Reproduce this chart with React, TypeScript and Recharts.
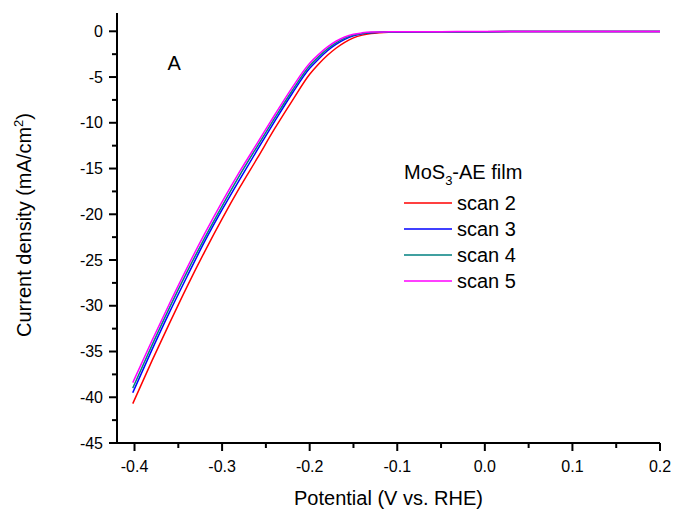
import { LineChart, Line, XAxis, YAxis, Legend, ReferenceDot } from 'recharts';

const potential = [-0.402, -0.38, -0.36, -0.34, -0.32, -0.30, -0.28, -0.26, -0.24, -0.22, -0.20, -0.19, -0.18, -0.17, -0.16, -0.15, -0.14, -0.13, -0.12, -0.11, -0.10, -0.05, 0.00, 0.05, 0.10, 0.15, 0.20];

const scan2 = [-40.7, -36.0, -31.9, -27.9, -24.1, -20.5, -17.1, -13.9, -10.65, -7.6, -4.7, -3.6, -2.65, -1.85, -1.2, -0.72, -0.42, -0.24, -0.15, -0.1, -0.08, -0.05, -0.04, -0.03, -0.03, -0.03, -0.03];
const scan3 = [-39.5, -34.8, -30.7, -26.8, -23.0, -19.5, -16.2, -13.0, -9.85, -6.8, -4.05, -3.05, -2.15, -1.44, -0.89, -0.5, -0.28, -0.16, -0.1, -0.08, -0.07, -0.05, -0.04, -0.03, -0.03, -0.03, -0.03];
const scan4 = [-39.0, -34.3, -30.2, -26.3, -22.6, -19.1, -15.75, -12.6, -9.5, -6.5, -3.77, -2.8, -1.95, -1.27, -0.75, -0.41, -0.23, -0.13, -0.09, -0.07, -0.06, -0.05, -0.04, -0.03, -0.03, -0.03, -0.03];
const scan5 = [-38.4, -33.8, -29.75, -25.85, -22.15, -18.65, -15.35, -12.25, -9.15, -6.15, -3.5, -2.55, -1.74, -1.09, -0.62, -0.32, -0.17, -0.09, -0.07, -0.06, -0.05, -0.04, -0.03, -0.03, -0.03, -0.03, -0.03];

const xTicks = [-0.4, -0.35, -0.3, -0.25, -0.2, -0.15, -0.1, -0.05, 0, 0.05, 0.1, 0.15, 0.2];
const yTicks = [0, -2.5, -5, -7.5, -10, -12.5, -15, -17.5, -20, -22.5, -25, -27.5, -30, -32.5, -35, -37.5, -40, -42.5, -45];

const series = [
  { key: 'scan2', name: 'scan 2', color: '#ff0000' },
  { key: 'scan3', name: 'scan 3', color: '#0000ff' },
  { key: 'scan4', name: 'scan 4', color: '#008080' },
  { key: 'scan5', name: 'scan 5', color: '#ff00ff' },
];

const data = potential.map((p, i) => ({
  p,
  scan2: scan2[i],
  scan3: scan3[i],
  scan4: scan4[i],
  scan5: scan5[i],
}));

const FONT = 'Arial, "Liberation Sans", sans-serif';

function XTick(props: any) {
  const { x, y, payload } = props;
  const v = payload.value;
  const major = Math.abs(v * 10 - Math.round(v * 10)) < 1e-6;
  return (
    <g>
      <line x1={x} y1={y} x2={x} y2={y + (major ? 8 : 5)} stroke="#000" strokeWidth={2} />
      {major && (
        <text x={x} y={y + 29} textAnchor="middle" fontSize={16} fontFamily={FONT} fill="#000">
          {v.toFixed(1)}
        </text>
      )}
    </g>
  );
}

function YTick(props: any) {
  const { x, y, payload } = props;
  const v = payload.value;
  const major = v % 5 === 0;
  return (
    <g>
      <line x1={x} y1={y} x2={x - (major ? 8 : 5)} y2={y} stroke="#000" strokeWidth={2} />
      {major && (
        <text x={x - 14} y={y} dy="0.35em" textAnchor="end" fontSize={16} fontFamily={FONT} fill="#000">
          {String(v)}
        </text>
      )}
    </g>
  );
}

function renderLegend() {
  return (
    <svg width={200} height={140}>
      <text x={4} y={24} fontSize={20} fontFamily={FONT} fill="#000">
        MoS<tspan dy={6} fontSize={13}>3</tspan><tspan dy={-6}>-AE film</tspan>
      </text>
      {series.map((s, i) => (
        <g key={s.key}>
          <line x1={4} x2={52} y1={48 + i * 26} y2={48 + i * 26} stroke={s.color} strokeWidth={1.5} />
          <text x={57} y={48 + i * 26 + 7} fontSize={20} fontFamily={FONT} fill="#000">{s.name}</text>
        </g>
      ))}
    </svg>
  );
}

export default function App() {
  return (
    <div style={{ position: 'absolute', left: 0, top: 0, width: 677, height: 511, background: '#fff' }}>
      <LineChart width={677} height={511} data={data} margin={{ top: 13, right: 17, bottom: 0, left: 0 }}>
        <XAxis
          dataKey="p"
          type="number"
          domain={[-0.42, 0.2]}
          allowDataOverflow
          ticks={xTicks}
          interval={0}
          height={68}
          tickSize={0}
          tickMargin={0}
          tickLine={false}
          tick={<XTick />}
          axisLine={{ stroke: '#000', strokeWidth: 2 }}
          label={(p: any) => (
            <text x={p.viewBox.x + p.viewBox.width / 2} y={p.viewBox.y + 62} textAnchor="middle" fontSize={20} fontFamily={FONT} fill="#000">
              Potential (V vs. RHE)
            </text>
          )}
        />
        <YAxis
          type="number"
          domain={[-45, 2]}
          allowDataOverflow
          ticks={yTicks}
          interval={0}
          width={117}
          tickSize={0}
          tickMargin={0}
          tickLine={false}
          tick={<YTick />}
          axisLine={{ stroke: '#000', strokeWidth: 2 }}
          label={(p: any) => {
            const cx = 31;
            const cy = p.viewBox.y + p.viewBox.height / 2 - 3;
            return (
              <text x={cx} y={cy} transform={`rotate(-90, ${cx}, ${cy})`} textAnchor="middle" fontSize={20} fontFamily={FONT} fill="#000">
                Current density (mA/cm<tspan dy={-8} fontSize={13}>2</tspan><tspan dy={8}>)</tspan>
              </text>
            );
          }}
        />
        {series.map((s) => (
          <Line
            key={s.key}
            type="monotone"
            dataKey={s.key}
            name={s.name}
            stroke={s.color}
            strokeWidth={1.5}
            dot={false}
            isAnimationActive={false}
          />
        ))}
        <ReferenceDot
          x={-0.3546}
          y={-3.45}
          r={0}
          fill="none"
          stroke="none"
          label={{ value: 'A', position: 'center', fontSize: 20, fontFamily: FONT, fill: '#000' }}
        />
        <Legend
          layout="horizontal"
          verticalAlign="middle"
          align="center"
          content={renderLegend}
          wrapperStyle={{ position: 'absolute', left: 400, top: 155, width: 200, height: 140 }}
        />
      </LineChart>
    </div>
  );
}
